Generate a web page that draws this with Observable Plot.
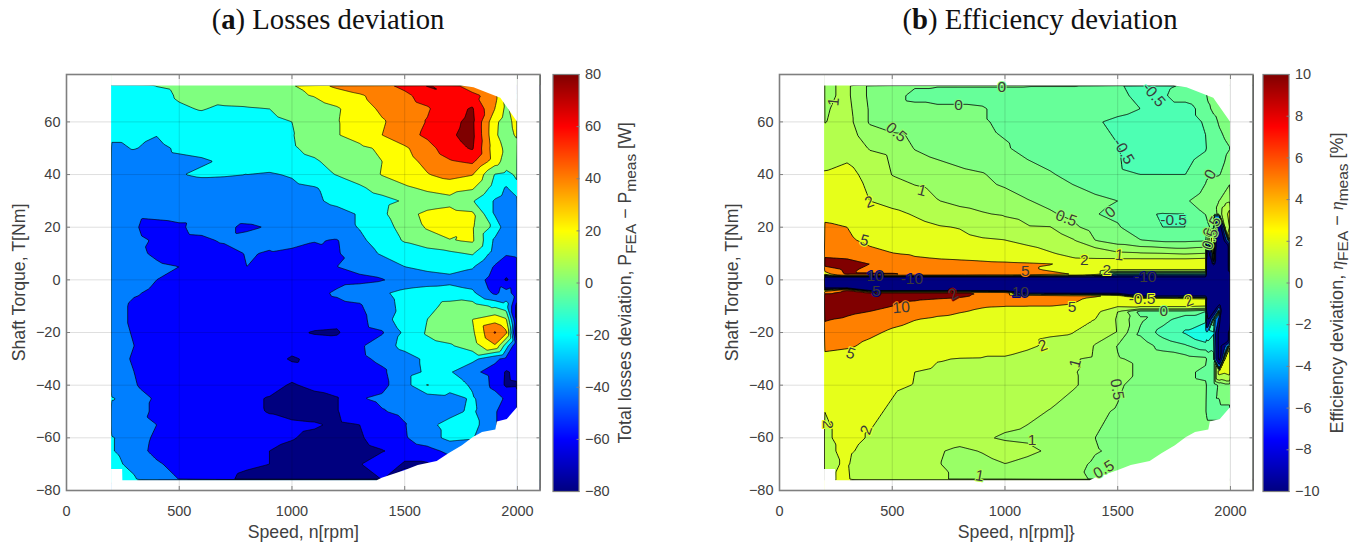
<!DOCTYPE html>
<html>
<head>
<meta charset="utf-8">
<script src="https://cdn.jsdelivr.net/npm/d3@7"></script>
<script src="https://cdn.jsdelivr.net/npm/@observablehq/plot@0.6"></script>
<style>
html,body{margin:0;padding:0;background:#fff;width:1360px;height:552px;overflow:hidden}
.slot{position:absolute;top:0}
.title{position:absolute;top:3px;font-family:"Liberation Serif",serif;font-size:28.7px;color:#111;white-space:nowrap;transform:translateX(-50%)}
.cbl{position:absolute;top:283px;font-family:"Liberation Sans",sans-serif;font-size:17.7px;color:#404040;white-space:nowrap;transform:translate(-50%,-50%) rotate(-90deg)}
.cbl sub{font-size:15.5px;vertical-align:-5px;line-height:0}
.cbl i{font-family:"Liberation Serif",serif}
svg{display:block}
</style>
</head>
<body>
<div class="slot" id="a" style="left:0"></div>
<div class="slot" id="ca" style="left:540px"></div>
<div class="cbl" style="left:625px">Total losses deviation, P<sub>FEA</sub> − P<sub>meas</sub> [W]</div>
<div class="slot" id="b" style="left:700px"></div>
<div class="slot" id="cb" style="left:1250px"></div>
<div class="cbl" style="left:1337px;font-size:18px">Efficiency deviation, <i>η</i><sub>FEA</sub> − <i>η</i><sub>meas</sub> [%]</div>
<div class="title" style="left:328px">(<b>a</b>) Losses deviation</div>
<div class="title" style="left:1040px">(<b>b</b>) Efficiency deviation</div>
<script>
// ---------- panel (a) : total losses deviation [W]
const speedsA = [200,300,400,500,600,700,800,900,1000,1100,1200,1300,1400,1500,1600,1700,1800,1900,1950,2000];
const torquesA = [74,70,65,60,55,50,45,40,35,30,25,20,15,10,5,0,-5,-10,-15,-20,-25,-30,-35,-40,-45,-50,-55,-60,-65,-70,-76];
const lossesDeviation = [
[-18,-8,1,4,6,8,10,15,19,33,45,50,56,65,82,70,42,-20,-60,-60],
[-18,-14,-6,2,7,10,13,16,17,21,30,38,46,56,68,78,68,46,10,-10],
[-15,-10,-7,-2,1,-3,-2,0,5,12,18,30,44,52,58,72,82,40,15,35],
[-13,-11,-9,-7,-6,-5,-4,-3,0,8,19,28,38,50,61,76,84,25,10,30],
[-15,-15,-19.5,-9,-7,-6,-5,-3,-1,10,19,27,40,52,64,78,85,24,8,25],
[-24,-19,-25,-17,-15,-12,-10,-6,-2,5,12,16,23,37,52,72,82,28,16,10],
[-28,-30,-26,-24,-22,-18,-14,-10,-6,-2,6,14,20,33,45,58,64,30,10,4],
[-32,-30,-26,-21,-17,-18,-20,-22,-18,-8,1,10,21,30,39,47,41,-1,-5,3],
[-34,-36,-34,-32,-30,-30,-29,-28,-25,-21,-14,-3,8,17,24,28,23,-8,-22,-3],
[-36,-38,-37,-36,-35,-34,-32,-30,-27,-22,-17,-12,-6,2,10,14,2,-22,-28,-26],
[-37,-38,-37,-36,-36,-35,-34,-33,-30,-27,-24,-19,-4,14,24,27,24,-22,-38,-36],
[-36,-39,-44,-42,-35,-38,-42,-39,-34,-30,-27,-19,-8,7,22,30,22,-6,-32,-30],
[-34,-38,-41,-44,-43,-38,-36,-37,-34,-39,-41,-24,-11,2,11,19,23,-24,-30,-28],
[-32,-37,-42,-46,-48,-46,-39,-41,-44,-46,-42,-28,-18,-12,-8,-4,2,-28,-38,-36],
[-28,-34,-38,-40,-41,-41,-40,-43,-46,-44,-40,-36,-30,-20,-15,-12,-18,-42,-52,-48],
[-32,-36,-40,-44,-46,-47,-47,-46,-46,-45,-44,-43,-41,-34,-29,-26,-30,-48,-62,-52],
[-34,-39,-42,-44,-46,-47,-47,-46,-45,-44,-38,-33,-23,-14,-11,-10,-16,-44,-32,-50],
[-35,-42,-44,-44,-40,-47,-48,-48,-47,-46,-44,-42,-27,-15,-6,6,9,-3,-12,-70],
[-35,-42,-45,-46,-47,-47,-48,-49,-50,-54,-55,-46,-28,-10,0,9,20,32,22,-70],
[-35,-41,-44,-46,-47,-48,-49,-50,-58,-61,-62,-48,-42,-16,2,10,16,62,44,-85],
[-35,-40,-44,-46,-47,-48,-49,-52,-53,-54,-52,-43,-29,-14,-6,-2,10,38,-10,-60],
[-36,-41,-46,-47,-48,-49,-50,-53,-62,-56,-53,-44,-36,-28,-16,-12,-14,-36,-45,-55],
[-37,-40,-47,-49,-50,-50,-51,-52,-53,-55,-53,-50,-43,-28,-17,-18,-36,-47,-62,-55],
[-37,-39,-46,-49,-50,-51,-52,-54,-62,-55,-52,-50,-45,-28,1,-12,-22,-46,-63,-62],
[-18,-30,-43,-47,-50,-53,-57,-61,-66,-66,-61,-41,-37,-34,-30,-26,-18,-32,-43,-60],
[-30,-34,-43,-48,-50,-52,-56,-61,-67,-68,-61,-48,-41,-36,-30,-25,-17,-38,-50,-55],
[-33,-36,-40,-50,-50,-52,-53,-55,-56,-58,-63,-60,-50,-41,-24,-15,-12,-38,-55,-55],
[-18,-32,-43,-47,-50,-52,-54,-56,-59,-64,-67,-62,-52,-42,-28,-15,-18,-18,-18,-18],
[-18,-34,-44,-47,-50,-53,-56,-60,-64,-68,-68,-66,-61,-53,-47,-35,-25,-25,-25,-25],
[-16,-24,-38,-45,-50,-53,-57,-60,-66,-70,-68,-61,-50,-62,-62,-50,-50,-50,-50,-50],
[-10,-18,-33,-40,-48,-56,-65,-68,-68,-68,-68,-66,-60,-55,-55,-55,-55,-55,-55,-55]
];
const bandsA = [-200,-60,-40,-20,0,20,40,60,80];
const bandColorsA = ["#00007f","#0000ff","#007fff","#00ffff","#7fff7f","#ffff00","#ff7f00","#ff0000","#7f0000"];

// ---------- panel (b) : efficiency deviation [%]
const speedsB = [200,300,400,500,600,700,800,900,1000,1100,1200,1300,1400,1500,1600,1700,1800,1890,1900,1925,1950,1975,2000];
const torquesB = [74,70,65,60,50,40,30,25,20,15,10,8,6,4,2,1,0,-3,-4,-5,-6,-7,-10,-12,-15,-20,-25,-30,-35,-40,-50,-60,-65,-70,-76];
const M = -30, E = -11;
const efficiencyDeviation = [
[.9,1.1,.4,.1,.05,.05,.05,.05,.05,.05,.05,.05,-.05,-.45,-.65,-.6,-.45,-.2,-.1,0,.1,.1,.1],
[.9,1.1,.4,.15,-.1,-.2,-.2,-.2,-.2,-.25,-.3,-.3,-.3,-.4,-.6,-.55,-.3,-.1,.1,.2,.2,.2,.2],
[.95,1.15,.45,.15,.1,.1,.1,.05,-.2,-.3,-.3,-.3,-.35,-.35,-.5,-.7,-.7,-.3,-.1,.1,.2,.2,.2],
[.98,1.2,.45,.3,.25,.15,.1,.05,-.1,-.2,-.3,-.4,-.45,-.6,-.7,-.75,-.7,-.45,-.3,-.15,.05,.2,.2],
[1.4,1.5,.95,.8,.48,.35,.25,.15,.05,-.15,-.3,-.35,-.45,-.48,-.7,-.8,-.8,-.55,-.4,-.3,-.2,-.1,0],
[2.1,2.4,1.6,.98,.8,.7,.6,.53,.35,.2,.05,-.15,-.3,-.45,-.5,-.5,-.5,-.1,-.05,-.05,-.02,.1,.3],
[3,2.9,2,1.6,1.3,1.02,.85,.75,.65,.52,.4,.25,.1,0,-.1,-.15,-.05,.2,.3,.4,.5,.7,.9],
[4,3.6,2.7,2.3,1.9,1.5,1.2,1.05,.93,.8,.55,.4,.02,-.1,-.45,-.52,-.5,.02,.2,.35,.6,1.5,2.5],
[5.6,5,3.3,2.8,2.4,2.1,1.95,1.6,1.3,1.05,1.02,.6,.3,.05,-.3,-.5,-.5,-.3,-.1,.2,-15,1,2.2],
[6.5,5.6,4.2,3.5,2.9,2.5,2.3,2.1,2.02,1.7,1.4,1.05,.5,.25,.02,-.1,-.1,-.05,.5,3,-25,-8,3],
[8.5,7.6,6,5.1,4.4,3.9,3.5,3.1,2.8,2.5,2.1,1.7,1.4,1.1,1.05,1,.9,1,-15,2,M,M,3],
[10.5,10,8,7,5.5,5,4.6,4.2,3.7,3.2,2.5,2.1,2.02,2,2,2,2,2.1,-25,2,M,M,3],
[12,11,10,9,8,7,6.5,6,5.8,5.5,5.1,4.5,4,3.8,3.5,3.2,3,3,M,-5,M,M,3],
[7,11,9,8.5,8,7.5,7,6.5,6,5.5,4.5,3.5,3,2.2,2.2,2.2,2.2,2.2,M,M,M,M,2],
[2,10.5,10.5,10.5,9,8.5,8,7.5,7.5,7,6,5,3,-1.5,-1.5,-1.5,-1.5,-1.5,M,M,M,M,M],
[E,E,E,E,E,E,E,E,E,E,E,E,E,E,E,E,E,E,M,M,M,M,M],
[M,M,M,M,M,M,M,M,M,M,M,M,M,M,M,M,M,M,M,M,M,M,M],
[E,E,M,M,M,M,M,M,M,M,M,M,M,M,M,M,M,M,M,M,M,M,M],
[3,11,E,E,E,E,E,E,E,M,M,M,M,M,M,M,M,M,M,M,M,M,M],
[8,13,11,11,11,11,10.5,10,9,E,E,E,E,E,M,M,M,M,M,M,M,M,M],
[15,14,13,12.5,12,11,10.5,9.5,9,8,7,6,5.5,4,E,E,E,E,M,M,M,M,M],
[15,13,12,11.5,11,10.3,9.8,9,8,7,6,5.5,4.5,3.2,3,3,2.5,2.2,-20,M,M,M,M],
[17,14,11.5,10,8,6.5,5.7,5.2,5,5,5,4.8,3,2.1,2.2,2.2,2.2,2,M,-25,-5,M,M],
[14,11.5,10,8.5,7,6,5.2,4.6,4.2,3.8,3.5,3,2.3,1,-.2,-.2,-.2,-.5,-20,E,1,M,M],
[10.5,9,7,6,5.1,4.4,4,3.4,2.9,2.5,2.2,2.05,2,.9,.1,-.3,-.8,-.8,E,0,-6,M,M],
[7.5,6.5,5.6,4.5,3.8,3.4,3,2.6,2.3,2.1,2.05,2.02,1.4,.95,-.1,-.7,-1.05,-1.6,-1.2,-1.05,-12,M,2],
[6,5.5,4.3,3.7,3.2,2.9,2.6,2.4,2.2,2.1,1.9,1.6,.95,.48,.3,-.2,-.45,-.8,-.9,-.7,-12,-6,2],
[3.8,3.3,2.8,2.5,2.4,2.05,1.97,1.95,1.95,1.8,1.6,1.05,.9,.52,.45,.3,.2,.1,-.15,-.3,-12,2,2.5],
[3,2.9,2.6,2.2,2,1.85,1.8,1.7,1.65,1.5,1.3,1.05,.8,.6,.45,.3,.1,-.1,-.2,-.3,2.5,2.2,2.5],
[2.6,2.4,2.3,2.1,1.98,1.7,1.6,1.5,1.4,1.3,1.2,1.05,.85,.6,.25,.2,.1,.05,-.1,-.3,.1,.3,.3],
[2,2.2,2.15,1.9,1.65,1.5,1.4,1.3,1.2,1.1,.98,.8,.6,.45,.3,.2,.1,.02,-.1,-.1,-.1,-.1,-.1],
[1.9,2.2,1.95,1.7,1.4,1.3,1.2,1.05,.95,.9,.98,.8,.5,.4,.3,.25,.2,.2,.2,.2,.2,.2,.2],
[1.9,2.1,1.8,1.5,1.2,1.05,.9,1.03,1.2,1.15,.9,.7,.52,.45,.35,.3,.3,.3,.3,.3,.3,.3,.3],
[1.9,2.05,1.6,1.4,1.15,1.02,.9,.85,.99,.8,.7,.6,.45,.45,.4,.35,.3,.3,.3,.3,.3,.3,.3],
[1.9,2.1,1.3,1.25,1.1,1.02,.98,.95,.95,.8,.6,.55,.48,.4,.4,.4,.4,.4,.4,.4,.4,.4,.4]
];
const bandsB = [-100,-10,-5,-2,-1,-.5,0,.5,1,2,5,10];
const bandColorsB = ["#000080","#000080","#0080ff","#1affe6","#4dffb3","#66ff99","#80ff80","#99ff66","#b3ff4d","#e6ff1a","#ff8000","#800000"];

// contour labels: speed, torque, text, level under the label, angle
const labelSpeed  = [240,986,794,1660,518,1526,1911,632,398,1272,1467,1748,377,1918,1911,1352,1507,1090,1452,424,587,1622,429,772,1068,1608,1815,540,1297,1704,316,1168,1312,1497,213,385,1120,887,1438];
const labelTorque = [67.6,73.3,66.5,70.3,56,48.8,40,33.9,29.5,23.4,25.7,22.9,14.9,20,15.5,7.6,9.4,3.4,3.8,1.5,.3,1,-4.2,-5.5,-4.6,-7.1,-8,-10.5,-10.5,-11.8,-28,-25,-31.7,-41.6,-55,-57,-60.7,-74.4,-72];
const labelText   = ["1","0","0","-0.5","0.5","-0.5","0","1","2","0.5","0","-0.5","5","0.5","0.5","2","1","5","2","10","-10","-10","5","2","10","-0.5","2","10","5","0","5","2","1","0.5","2","2","1","1","0.5"];
const labelLevel  = [1,0,0,-.6,.5,-.6,0,1,2,.5,0,-.6,2,.5,.5,2,2,5,2,-20,-20,-20,-20,10,-20,2,2,5,2,0,2,2,1,.5,2,2,1,1,.5];
const labelAngle  = [-85,0,0,50,40,60,-60,15,-20,20,-40,0,15,-60,-70,0,5,0,0,0,0,0,0,-30,0,0,-20,-5,0,0,20,-20,-75,80,90,-70,0,10,-30];

// outline of the measured region
const topEdgeSpeed = [200,1750,1807,1926,2000];
const topEdgeTorque = [73.6,73.6,73,69,60];
const bottomEdgeSpeed = [200,249,250,1378,1400,1500,1560,1644,1696,1756,1803,1845,1904,1911,1955,2000];
const bottomEdgeTorque = [-72,-72,-76.3,-76.3,-75.3,-72.5,-70.5,-69,-66,-63,-60,-58,-57,-54,-53,-48.6];

const speedTicks = [0,500,1000,1500,2000];
const torqueTicks = [-80,-60,-40,-20,0,20,40,60];
const jetStops = ["#000080","#0000ff","#00ffff","#ffff00","#ff0000","#800000"];
const barStopsA = [-80,-60,-20,20,60,80];
const barTicksA = [-80,-60,-40,-20,0,20,40,60,80];
const barStopsB = [-10,-7.5,-2.5,2.5,7.5,10];
const barTicksB = [-10,-8,-6,-4,-2,0,2,4,6,8,10];

const INK = "#404040", BOX = "#7f7f7f", FONT = "Liberation Sans";
const fmt = d3.format("d");
const tableFromGrid = (xs, ys, grid) => ys.flatMap((t, r) => xs.map((s, c) => ({speed: s, torque: t, value: grid[r][c]})));
const edge = (xs, ys) => xs.map((s, i) => ({speed: s, torque: ys[i]}));

function chart({xs, ys, grid, bands, colors, xLabel, left, width, lineWidth, labels = []}) {
  const yDomain = [-80, 78];
  return Plot.plot({
    width, height: 552,
    marginLeft: left, marginRight: width - left - 473.5, marginTop: 74, marginBottom: 62,
    style: {fontFamily: FONT, background: "transparent"},
    x: {domain: [0, 2100]},
    y: {domain: yDomain},
    color: {type: "threshold", domain: bands.slice(1), range: colors},
    marks: [
      Plot.contour(tableFromGrid(xs, ys, grid), {
        x: "speed", y: "torque", value: "value", fill: "value",
        thresholds: bands, interpolate: "barycentric", pixelSize: 1,
        stroke: "#000", strokeWidth: lineWidth, strokeOpacity: 0.85
      }),
      Plot.rect([0], {x1: () => 0, x2: () => 200, y1: () => yDomain[0], y2: () => yDomain[1], fill: "white"}),
      Plot.rect([0], {x1: () => 2000, x2: () => 2100, y1: () => yDomain[0], y2: () => yDomain[1], fill: "white"}),
      Plot.areaY(edge(topEdgeSpeed, topEdgeTorque), {x: "speed", y1: "torque", y2: () => yDomain[1], fill: "white"}),
      Plot.areaY(edge(bottomEdgeSpeed, bottomEdgeTorque), {x: "speed", y1: "torque", y2: () => yDomain[0], fill: "white"}),
      ...labels,
      Plot.gridX(speedTicks, {stroke: "#000", strokeOpacity: 0.13}),
      Plot.gridY(torqueTicks, {stroke: "#000", strokeOpacity: 0.13}),
      Plot.axisX(speedTicks, {anchor: "bottom", label: null, tickSize: -4, tickPadding: 19, tickFormat: fmt, fontSize: 14.5, color: INK, stroke: BOX}),
      Plot.axisX(speedTicks, {anchor: "top", label: null, tickSize: -4, tickFormat: null, text: null, stroke: BOX}),
      Plot.axisY(torqueTicks, {anchor: "left", label: null, tickSize: -4, tickPadding: 10, tickFormat: fmt, fontSize: 14.5, color: INK, stroke: BOX}),
      Plot.axisY(torqueTicks, {anchor: "right", label: null, tickSize: -4, tickFormat: null, text: null, stroke: BOX}),
      Plot.frame({stroke: BOX, strokeWidth: 1.6}),
      Plot.text([xLabel], {frameAnchor: "bottom", dy: 47, fontSize: 17.7, fill: INK}),
      Plot.text(["Shaft Torque, T[Nm]"], {frameAnchor: "left", textAnchor: "middle", dx: -47, rotate: -90, fontSize: 17.7, fill: INK})
    ]
  });
}

function colorBar({stops, ticks, width}) {
  return Plot.plot({
    width, height: 552,
    marginLeft: 12.5, marginRight: width - 38.5, marginTop: 74, marginBottom: 61,
    style: {fontFamily: FONT, background: "transparent"},
    x: {domain: [0, 1], axis: null},
    y: {domain: [stops[0], stops[stops.length - 1]], axis: null},
    color: {type: "linear", domain: stops, range: jetStops},
    marks: [
      Plot.raster({fill: (x, y) => y, x1: 0, x2: 1, y1: stops[0], y2: stops[stops.length - 1], width: 2, height: 417}),
      Plot.axisY(ticks, {anchor: "right", label: null, tickSize: -3, tickPadding: 9, tickFormat: fmt, fontSize: 14.5, color: INK, stroke: BOX}),
      Plot.frame({stroke: BOX, strokeWidth: 1.2})
    ]
  });
}

const labelRows = labelSpeed.map((s, i) => ({speed: s, torque: labelTorque[i], text: labelText[i], level: labelLevel[i], angle: labelAngle[i]}));

document.getElementById("a").append(chart({
  xs: speedsA, ys: torquesA, grid: lossesDeviation, bands: bandsA, colors: bandColorsA,
  xLabel: "Speed, n[rpm]", left: 66, width: 545, lineWidth: 0.8
}));
document.getElementById("ca").append(colorBar({stops: barStopsA, ticks: barTicksA, width: 75}));
document.getElementById("b").append(chart({
  xs: speedsB, ys: torquesB, grid: efficiencyDeviation, bands: bandsB, colors: bandColorsB,
  xLabel: "Speed, n[rpm]}", left: 79, width: 558, lineWidth: 1,
  labels: [Plot.text(labelRows, {x: "speed", y: "torque", text: "text", rotate: "angle", stroke: "level", strokeWidth: 2, fill: "#3a3a3a", fontSize: 15.5})]
}));
document.getElementById("cb").append(colorBar({stops: barStopsB, ticks: barTicksB, width: 75}));
</script>
</body>
</html>
